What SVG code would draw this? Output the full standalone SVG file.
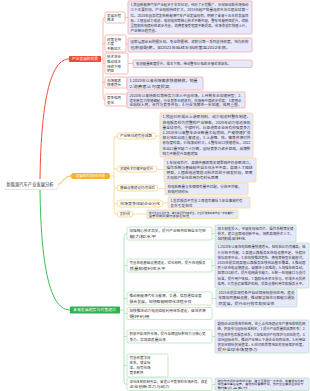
<svg xmlns="http://www.w3.org/2000/svg" width="310" height="391" viewBox="0 0 310 391">
<style>
text{font-family:"Noto Sans CJK SC","Noto Sans",sans-serif;font-size:3.5px;fill:#333}
.w{fill:#fff}
.s{font-size:2.8px}
.rc{fill:#fff;stroke:#f6b1aa;stroke-width:0.9}
.oc{fill:#fff;stroke:#fbd68c;stroke-width:0.9}
.gc{fill:#fff;stroke:#bde6c6;stroke-width:0.9}
.rl{fill:#e7e8fb;stroke:#f2b3b3;stroke-width:0.9}
.ol{fill:#e7e8fb;stroke:#f5dba8;stroke-width:0.9}
.gl{fill:#e7e8fb;stroke:#bfe2c9;stroke-width:0.9}
.cr{fill:none;stroke:#f6a59d;stroke-width:0.8}
.co{fill:none;stroke:#fcd48a;stroke-width:0.8}
.cg{fill:none;stroke:#9fdcb0;stroke-width:0.8}
</style>
<g id="connectors">
<path d="M40,180 C41,95 52,59 69,59" fill="none" stroke="#f44c3d" stroke-width="1"/>
<path d="M56,185 C63,185 63,176 71,176" fill="none" stroke="#f5b031" stroke-width="1"/>
<path d="M40,189 C41,275 52,310 70,310" fill="none" stroke="#3bbd58" stroke-width="1"/>
<path class="cr" d="M101,59 L103,59 M103,20 Q103,17.5 105,17.5 M103,20 L103,97 Q103,100 105,100 M103,43.5 L105,43.5 M103,63.5 L105,63.5 M103,82.5 L105,82.5"/>
<path class="cr" d="M125,17.5 L128,17.5 M126,43.5 L128,44.5 M128,63.5 L133,63.5 M127,82.5 L127,83.5 M127,100 L127,100"/>
<path class="co" d="M110,176 L114,176 M114,139 Q114,136 117,136 M114,139 L114,211 Q114,214 117,214 M114,169 L117,169 M114,188 L117,188 M114,203.5 L117,203.5"/>
<path class="co" d="M156,136 L160,136 M157,169 L164,170 M158,188 L165,189 M163,203.5 L168,202.5 M133,214 L147,214"/>
<path class="cg" d="M120,310 L124,310 M124,236.5 Q124,233.5 127,233.5 M124,236.5 L124,381.5 Q124,384.5 127,384.5 M124,265.5 L127,265.5 M124,298.5 L127,298.5 M124,313.5 L127,313.5 M124,336.5 L127,336.5 M124,365.5 L127,365.5"/>
<path class="cg" d="M212,233.5 L215,233.5 M212,265.5 L215,265.5 M212,298.5 L216,298.5 M212,336.5 L215,336.5 M212,384.5 L215,384.5"/>
</g>
<g id="root">
<rect x="3.5" y="180" width="55" height="10" rx="3" fill="#e4e4e4"/>
<rect x="3" y="179" width="55" height="10" rx="3" fill="#fff"/>
<text x="6.5" y="185.6" style="font-size:4.2px" textLength="47" lengthAdjust="spacingAndGlyphs">新能源汽车产业发展分析</text>
</g>
<g id="red-branch">
<rect x="69" y="56" width="32" height="6" rx="0.8" fill="#f04a3b"/>
<text class="w" x="72" y="60.4" textLength="26" lengthAdjust="spacingAndGlyphs">产业发展的背景</text>
</g>
<g id="red-1">
<rect class="rc" x="105" y="12" width="20" height="11" rx="1.5"/>
<text x="107" y="16.5">发展历程</text><text x="107" y="21.3">概述</text>
<rect class="rl" x="128" y="1" width="124" height="33" rx="0.8"/>
<text x="130.5" y="6.2" textLength="118" lengthAdjust="spacingAndGlyphs">1.我国新能源汽车产业起步于本世纪初，经历了示范推广、补贴驱动和市场驱动</text>
<text x="130.5" y="11.4" textLength="118" lengthAdjust="spacingAndGlyphs">三个主要阶段，产业规模持续扩大，2015年起产销量连续多年位居全球第一</text>
<text x="130.5" y="16.6" textLength="118" lengthAdjust="spacingAndGlyphs">位。2020年国务院发布新能源汽车产业发展规划，明确了未来十五年的发展目</text>
<text x="130.5" y="21.8" textLength="118" lengthAdjust="spacingAndGlyphs">标。2.随着动力电池、电机电控等核心技术不断突破，整车性能明显提升，续航</text>
<text x="130.5" y="27" textLength="118" lengthAdjust="spacingAndGlyphs">里程和充电便利性逐步改善，消费者接受程度不断提高，市场渗透率快速上升，</text>
<text x="130.5" y="32.2">产业链日趋完善。</text>
</g>
<g id="red-2">
<rect class="rc" x="105" y="35" width="21" height="17" rx="1.5"/>
<text x="107" y="40.5">政策支持</text><text x="107" y="45.3">力度</text><text x="107" y="50">不断加大</text>
<rect class="rl" x="128" y="38" width="124" height="14" rx="0.8"/>
<text x="130.5" y="43.2" textLength="118" lengthAdjust="spacingAndGlyphs">国家层面出台购置补贴、免征购置税、双积分等一系列支持政策，地方政府</text>
<text x="130.5" y="49" textLength="100" lengthAdjust="spacingAndGlyphs">也积极配套，如2021年延续补贴政策至2022年底。</text>
</g>
<g id="red-3">
<rect class="rc" x="105" y="53" width="23" height="21" rx="1.5"/>
<text x="107" y="58">技术进步</text><text x="107" y="62.8">推动成本</text><text x="107" y="67.6">持续下降</text><text x="107" y="72.4">明显</text>
<rect class="rl" x="133" y="60" width="119" height="7.5" rx="0.8"/>
<text x="136" y="65" textLength="95" lengthAdjust="spacingAndGlyphs">电池能量密度提升、成本下降，带动整车价格逐步接近燃油车。</text>
</g>
<g id="red-4">
<rect class="rc" x="105" y="77" width="22" height="11" rx="1.5"/>
<text x="107" y="81.5">市场需求</text><text x="107" y="86.3">快速增长</text>
<rect class="rl" x="127" y="77" width="76" height="13" rx="0.8"/>
<text x="129.5" y="82" textLength="68" lengthAdjust="spacingAndGlyphs">1.2020年以来市场需求快速释放，销量</text>
<text x="129.5" y="87.5" textLength="40" lengthAdjust="spacingAndGlyphs">2.消费者认可度提高</text>
</g>
<g id="red-5">
<rect class="rc" x="105" y="94" width="22" height="12" rx="1.5"/>
<text x="107" y="98.5">竞争格局</text><text x="107" y="103.5">变化</text>
<rect class="rl" x="127" y="92" width="118" height="16" rx="0.8"/>
<text x="129.5" y="96.8" textLength="112" lengthAdjust="spacingAndGlyphs">2020年以来特斯拉等新势力进入中国市场，1.传统车企加速转型；2.</text>
<text x="129.5" y="101.6" textLength="112" lengthAdjust="spacingAndGlyphs">造车新势力快速崛起，行业竞争日趋激烈，市场集中度逐步提高；3.跨界企</text>
<text x="129.5" y="106.4" textLength="112" lengthAdjust="spacingAndGlyphs">业纷纷入局，合作与竞争并存，4.行业洗牌进一步加速，格局重塑。</text>
</g>
<g id="orange-branch">
<rect x="71" y="173" width="39" height="6" rx="2.5" fill="#f6b12e"/>
<text class="w" x="76" y="177.4" textLength="29" lengthAdjust="spacingAndGlyphs">发展现状及存在问题</text>
</g>
<g id="orange-1">
<rect class="oc" x="117" y="133" width="39" height="6" rx="3"/>
<text x="120" y="137.4" textLength="32" lengthAdjust="spacingAndGlyphs">产业链日趋完善成熟</text>
<rect class="ol" x="160" y="113" width="93" height="44" rx="0.8"/>
<text x="162.5" y="118.3" textLength="88" lengthAdjust="spacingAndGlyphs">1.我国已形成从上游原材料、动力电池到整车制造、</text>
<text x="162.5" y="123.5" textLength="88" lengthAdjust="spacingAndGlyphs">充电服务较为完整的产业链条，2020年动力电池装机</text>
<text x="162.5" y="128.7" textLength="88" lengthAdjust="spacingAndGlyphs">量全球领先，宁德时代、比亚迪等企业具有较强竞争力</text>
<text x="162.5" y="133.9" textLength="88" lengthAdjust="spacingAndGlyphs">2.2020年以来整车企业数量大幅增加，产能快速扩张</text>
<text x="162.5" y="139.1" textLength="88" lengthAdjust="spacingAndGlyphs">部分地区出现重复建设，3.上游锂、钴、镍等资源对外</text>
<text x="162.5" y="144.3" textLength="88" lengthAdjust="spacingAndGlyphs">依存度较高，价格波动较大，4.整车出口快速增长，2022</text>
<text x="162.5" y="149.5" textLength="88" lengthAdjust="spacingAndGlyphs">年出口量突破六十万辆，国际竞争力逐步显现，品牌影</text>
<text x="162.5" y="154.7" textLength="35" lengthAdjust="spacingAndGlyphs">响力不断提升显著增强</text>
</g>
<g id="orange-2">
<rect class="oc" x="117" y="166" width="40" height="6" rx="3"/>
<text x="120" y="170.4" textLength="33" lengthAdjust="spacingAndGlyphs">关键技术仍需突破提升</text>
<rect class="ol" x="164" y="158" width="92" height="24" rx="0.8"/>
<text x="166.5" y="163.5" textLength="86" lengthAdjust="spacingAndGlyphs">1.车规级芯片、高端传感器等关键零部件仍依赖进口，</text>
<text x="166.5" y="168.7" textLength="86" lengthAdjust="spacingAndGlyphs">操作系统与基础软件自主化水平不高，高端人才短缺</text>
<text x="166.5" y="173.9" textLength="86" lengthAdjust="spacingAndGlyphs">明显，2.固态电池等前沿技术尚处于研发阶段，距离</text>
<text x="166.5" y="179.1" textLength="52" lengthAdjust="spacingAndGlyphs">大规模产业化应用仍有较长距离</text>
</g>
<g id="orange-3">
<rect class="oc" x="117" y="185" width="41" height="6" rx="3"/>
<text x="120" y="189.4" textLength="35" lengthAdjust="spacingAndGlyphs">基础设施建设仍然滞后</text>
<rect class="ol" x="165" y="183" width="83" height="12" rx="0.8"/>
<text x="167.5" y="188" textLength="74" lengthAdjust="spacingAndGlyphs">充电桩数量与车辆保有量不匹配，分布不均衡，</text>
<text x="167.5" y="193" textLength="21">充电时间较长</text>
</g>
<g id="orange-4">
<rect class="oc" x="117" y="200" width="46" height="7" rx="3.5"/>
<text x="120" y="204.8" textLength="40" lengthAdjust="spacingAndGlyphs">市场竞争加剧企业分化</text>
<rect class="ol" x="168" y="197" width="82" height="11" rx="0.8"/>
<text x="170.5" y="201.8" textLength="72" lengthAdjust="spacingAndGlyphs">1.售后服务不完善 2.保值率偏低 3.安全事故时有</text>
<text x="170.5" y="206.6" textLength="22">发生引发担忧</text>
</g>
<g id="orange-5">
<rect class="oc" x="117" y="211" width="16" height="6" rx="3"/>
<text x="120" y="215.4" textLength="10" lengthAdjust="spacingAndGlyphs">其他问题</text>
<rect class="ol" x="147" y="210" width="91" height="8.5" rx="0.8"/>
<text class="s" x="149" y="213.6" textLength="86" lengthAdjust="spacingAndGlyphs">部分企业盲目扩张、骗补等问题时有发生，行业标准体系有待进一步完善统一</text>
<text class="s" x="149" y="217" textLength="40" lengthAdjust="spacingAndGlyphs">监管机制尚需持续健全加强</text>
</g>
<g id="green-branch">
<rect x="70" y="306.5" width="50" height="7" rx="0.8" fill="#2db24e"/>
<text class="w" x="73" y="311.4" textLength="43" lengthAdjust="spacingAndGlyphs">未来发展趋势与对策建议</text>
</g>
<g id="green-1">
<rect class="gc" x="127" y="227" width="85" height="13" rx="1"/>
<text x="129.5" y="232" textLength="76" lengthAdjust="spacingAndGlyphs">加强核心技术攻关，提升产业链供应链自主可控</text>
<text x="129.5" y="237.5" textLength="27" lengthAdjust="spacingAndGlyphs">能力和水平</text>
<rect class="gl" x="215" y="225" width="81" height="17" rx="0.8"/>
<text x="217.5" y="230" textLength="76" lengthAdjust="spacingAndGlyphs">加大研发投入，突破车规级芯片、操作系统等关键</text>
<text x="217.5" y="235" textLength="76" lengthAdjust="spacingAndGlyphs">技术，建立国家级创新平台，培养高端技术人才，</text>
<text x="217.5" y="240" textLength="28" lengthAdjust="spacingAndGlyphs">加快成果转化</text>
</g>
<g id="green-2">
<rect class="gc" x="127" y="259" width="85" height="13" rx="1"/>
<text x="129.5" y="264" textLength="76" lengthAdjust="spacingAndGlyphs">完善充电基础设施建设，优化布局，提升充电服务</text>
<text x="129.5" y="269.5" textLength="36" lengthAdjust="spacingAndGlyphs">质量和便利性水平</text>
<rect class="gl" x="215" y="243" width="94" height="45" rx="0.8"/>
<text x="217.5" y="248.3" textLength="88" lengthAdjust="spacingAndGlyphs">1.2020年以来充电桩数量快速增长，但车桩比仍然偏高，城</text>
<text x="217.5" y="253.5" textLength="88" lengthAdjust="spacingAndGlyphs">乡分布不均衡，2.高速公路服务区充电设施不足，节假日</text>
<text x="217.5" y="258.7" textLength="88" lengthAdjust="spacingAndGlyphs">排队现象突出，3.应加快推进超充、换电等新型补能模式，</text>
<text x="217.5" y="263.9" textLength="88" lengthAdjust="spacingAndGlyphs">2025年前实现高速公路服务区快充站基本覆盖，4.推动居</text>
<text x="217.5" y="269.1" textLength="88" lengthAdjust="spacingAndGlyphs">民小区充电设施建设，破解进小区难题，5.加强车网互动，</text>
<text x="217.5" y="274.3" textLength="88" lengthAdjust="spacingAndGlyphs">探索V2G模式，提升电网调节能力，6.统一充电接口与支付</text>
<text x="217.5" y="279.5" textLength="88" lengthAdjust="spacingAndGlyphs">标准，提升用户体验，7.鼓励社会资本参与，形成多元投资</text>
<text x="217.5" y="284.7" textLength="88" lengthAdjust="spacingAndGlyphs">格局，8.完善运营维护机制，提高设施利用率和服务水平。</text>
</g>
<g id="green-3">
<rect class="gc" x="127" y="292" width="85" height="13" rx="1"/>
<text x="129.5" y="297" textLength="72" lengthAdjust="spacingAndGlyphs">推动新能源汽车与能源、交通、信息通信深度</text>
<text x="129.5" y="302.5" textLength="62" lengthAdjust="spacingAndGlyphs">融合发展，加快智能网联化进程步伐</text>
<rect class="gl" x="216" y="289" width="81" height="18" rx="0.8"/>
<text x="218.5" y="294.2" textLength="76" lengthAdjust="spacingAndGlyphs">2025年前实现有条件自动驾驶规模化应用，建设</text>
<text x="218.5" y="299.4" textLength="76" lengthAdjust="spacingAndGlyphs">车路协同基础设施，推动智慧城市与智能交通协</text>
<text x="218.5" y="304.6" textLength="56" lengthAdjust="spacingAndGlyphs">同发展，提升出行效率和安全性</text>
</g>
<g id="green-4">
<rect class="gc" x="127" y="307.5" width="85" height="12" rx="1"/>
<text x="129.5" y="312.3" textLength="76" lengthAdjust="spacingAndGlyphs">加快推进动力电池回收利用体系建设，促进资源</text>
<text x="129.5" y="317.5" textLength="20" lengthAdjust="spacingAndGlyphs">循环利用</text>
</g>
<g id="green-5">
<rect class="gc" x="127" y="330" width="85" height="13" rx="1"/>
<text x="129.5" y="335" textLength="76" lengthAdjust="spacingAndGlyphs">积极开拓海外市场，提升品牌国际影响力与核心竞</text>
<text x="129.5" y="340.5" textLength="36" lengthAdjust="spacingAndGlyphs">争力，实现高质量出海</text>
<rect class="gl" x="215" y="320" width="94" height="33" rx="0.8"/>
<text x="217.5" y="325.2" textLength="88" lengthAdjust="spacingAndGlyphs">鼓励企业加快海外布局，在重点市场建设生产基地和销售网</text>
<text x="217.5" y="330.4" textLength="88" lengthAdjust="spacingAndGlyphs">络，积极参与国际标准制定，1.提升产品质量和品牌形象；2.</text>
<text x="217.5" y="335.6" textLength="88" lengthAdjust="spacingAndGlyphs">完善海外售后服务体系，3.加强知识产权保护与风险防范，4.</text>
<text x="217.5" y="340.8" textLength="88" lengthAdjust="spacingAndGlyphs">深化国际合作，推动产业链上下游企业协同出海，5.利用自</text>
<text x="217.5" y="346" textLength="88" lengthAdjust="spacingAndGlyphs">贸协定降低贸易壁垒，6.应对欧美等地区的贸易保护政策，</text>
<text x="217.5" y="351.2" textLength="40" lengthAdjust="spacingAndGlyphs">提升全球市场竞争力</text>
</g>
<g id="green-6">
<rect class="gc" x="127" y="354" width="41" height="23" rx="1"/>
<text x="129.5" y="358.5">完善政策法规</text><text x="129.5" y="363.5">体系，健全标</text><text x="129.5" y="368.5">准，规范市场</text><text x="129.5" y="373.5">竞争秩序</text>
</g>
<g id="green-7">
<rect class="gc" x="127" y="378" width="85" height="12.5" rx="1"/>
<text x="129.5" y="382.8" textLength="78" lengthAdjust="spacingAndGlyphs">深化体制机制改革，营造公平竞争的市场环境，激发</text>
<text x="129.5" y="388.2" textLength="40" lengthAdjust="spacingAndGlyphs">企业创新活力与动力</text>
<rect class="gl" x="215" y="378" width="94" height="12.5" rx="0.8"/>
<text class="s" x="217.5" y="381.6" textLength="86" lengthAdjust="spacingAndGlyphs">破除地方保护和市场分割，建立全国统一大市场，完善退出机制</text>
<text class="s" x="217.5" y="385.2" textLength="86" lengthAdjust="spacingAndGlyphs">加强事中事后监管，营造良好营商环境，支持企业兼并重组提升</text>
<text class="s" x="217.5" y="388.8" textLength="30" lengthAdjust="spacingAndGlyphs">整体竞争实力</text>
</g>
</svg>
